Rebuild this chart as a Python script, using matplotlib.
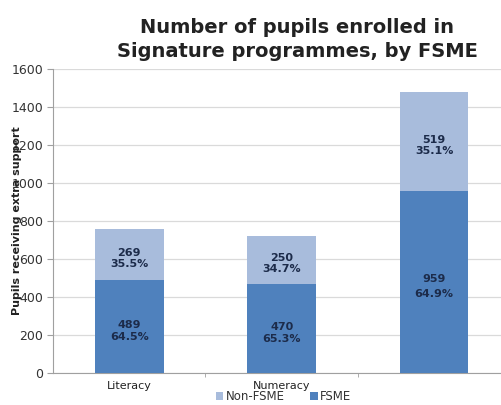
import numpy as np
import matplotlib.pyplot as plt

# Data
categories = ['Literacy', 'Numeracy', '']
fsme = [489, 470, 959]
non_fsme = [269, 250, 519]

col_fsme = '#4F81BD'
col_non = '#A8BCDC'
txt_col = '#1C2B4A'

fig = plt.figure(figsize=(5.02, 4.05), dpi=100)
ax = fig.add_axes([0.1056, 0.079, 0.911, 0.7506])

x = np.arange(len(categories))
w = 0.45
fsme = np.array(fsme)
non_fsme = np.array(non_fsme)
total = fsme + non_fsme

b1 = ax.bar(x, fsme, w, color=col_fsme, label='FSME', zorder=3)
b2 = ax.bar(x, non_fsme, w, bottom=fsme, color=col_non, label='Non-FSME', zorder=3)

# Data labels: count and share of the bar
for i in range(len(x)):
    p1 = fsme[i] / total[i] * 100
    p2 = non_fsme[i] / total[i] * 100
    ls = 1.7 if i == 2 else 1.25
    ax.text(x[i], fsme[i] / 2 - 25, f'{fsme[i]}\n{p1:.1f}%', ha='center', va='center',
            fontsize=8, fontweight='bold', color=txt_col, linespacing=ls, zorder=4)
    ax.text(x[i], fsme[i] + non_fsme[i] / 2 - 20, f'{non_fsme[i]}\n{p2:.1f}%', ha='center',
            va='center', fontsize=8, fontweight='bold', color=txt_col, linespacing=1.1, zorder=4)

ax.set_xlim(-0.5, len(x) - 0.5)
ax.set_ylim(0, 1600)
ax.set_yticks(np.arange(0, 1601, 200))
ax.tick_params(axis='y', labelsize=9, labelcolor='#333333', color='#A0A0A0', length=4, pad=3)
ax.set_xticks(x)
ax.set_xticklabels(categories, fontsize=8, color='#222222')
ax.tick_params(axis='x', length=0, pad=6)
# small marks between categories
ax.set_xticks(np.arange(0.5, len(x) - 0.5, 1), minor=True)
ax.tick_params(axis='x', which='minor', length=3, color='#A0A0A0')

ax.grid(axis='y', color='#DADADA', linewidth=0.9, zorder=0)
for s in ['top', 'right']:
    ax.spines[s].set_visible(False)
ax.spines['left'].set_color('#A0A0A0')
ax.spines['bottom'].set_color('#A0A0A0')

ax.set_ylabel('Pupils receiving extra support', fontsize=8, fontweight='bold', color='#222222')
ax.yaxis.set_label_coords(-0.068, 0.5)

fig.text(0.592, 0.903, 'Number of pupils enrolled in\nSignature programmes, by FSME',
         ha='center', va='center', fontsize=14, fontweight='bold', color='#222222',
         linespacing=1.3)

leg = fig.legend(handles=[b2, b1], loc='center', bbox_to_anchor=(0.565, 0.02), ncol=2,
                 frameon=False, fontsize=8.5, handlelength=0.6, handleheight=0.6,
                 handletextpad=0.2, columnspacing=2.2, borderpad=0)
for t in leg.get_texts():
    t.set_color('#333333')

fig.savefig('out.png', dpi=100)
